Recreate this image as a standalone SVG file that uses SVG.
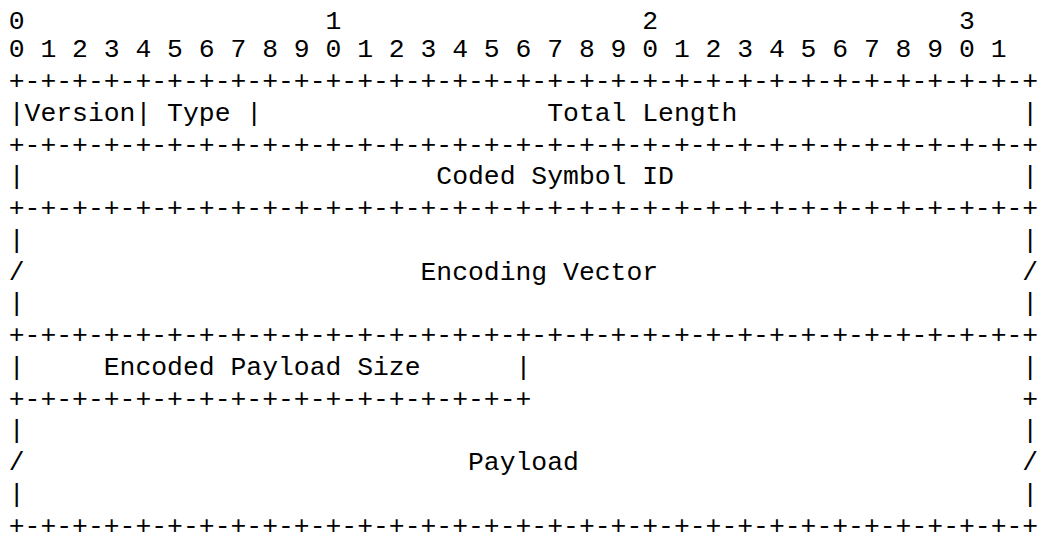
<svg xmlns="http://www.w3.org/2000/svg" width="1038" height="535" viewBox="0 0 1038 535" xml:space="preserve">
<style>
text { font-family: "Liberation Mono", "Courier New", monospace; font-size: 26.4px; fill: #000; white-space: pre; }
</style>
<rect width="1038" height="535" fill="#fff"/>
<g id="diagram">
<text x="8.75" y="29">0                   1                   2                   3</text>
<text x="8.75" y="57">0 1 2 3 4 5 6 7 8 9 0 1 2 3 4 5 6 7 8 9 0 1 2 3 4 5 6 7 8 9 0 1</text>
<text x="8.75" y="89">+-+-+-+-+-+-+-+-+-+-+-+-+-+-+-+-+-+-+-+-+-+-+-+-+-+-+-+-+-+-+-+-+</text>
<text x="8.75" y="120.75">|Version| Type |                  Total Length                  |</text>
<text x="8.75" y="152.5">+-+-+-+-+-+-+-+-+-+-+-+-+-+-+-+-+-+-+-+-+-+-+-+-+-+-+-+-+-+-+-+-+</text>
<text x="8.75" y="184.25">|                          Coded Symbol ID                      |</text>
<text x="8.75" y="216">+-+-+-+-+-+-+-+-+-+-+-+-+-+-+-+-+-+-+-+-+-+-+-+-+-+-+-+-+-+-+-+-+</text>
<text x="8.75" y="247.75">|                                                               |</text>
<text x="8.75" y="279.5">/                         Encoding Vector                       /</text>
<text x="8.75" y="311.25">|                                                               |</text>
<text x="8.75" y="343">+-+-+-+-+-+-+-+-+-+-+-+-+-+-+-+-+-+-+-+-+-+-+-+-+-+-+-+-+-+-+-+-+</text>
<text x="8.75" y="374.75">|     Encoded Payload Size      |                               |</text>
<text x="8.75" y="406.5">+-+-+-+-+-+-+-+-+-+-+-+-+-+-+-+-+                               +</text>
<text x="8.75" y="438.25">|                                                               |</text>
<text x="8.75" y="470">/                            Payload                            /</text>
<text x="8.75" y="501.75">|                                                               |</text>
<text x="8.75" y="533.5">+-+-+-+-+-+-+-+-+-+-+-+-+-+-+-+-+-+-+-+-+-+-+-+-+-+-+-+-+-+-+-+-+</text>
</g>
</svg>
